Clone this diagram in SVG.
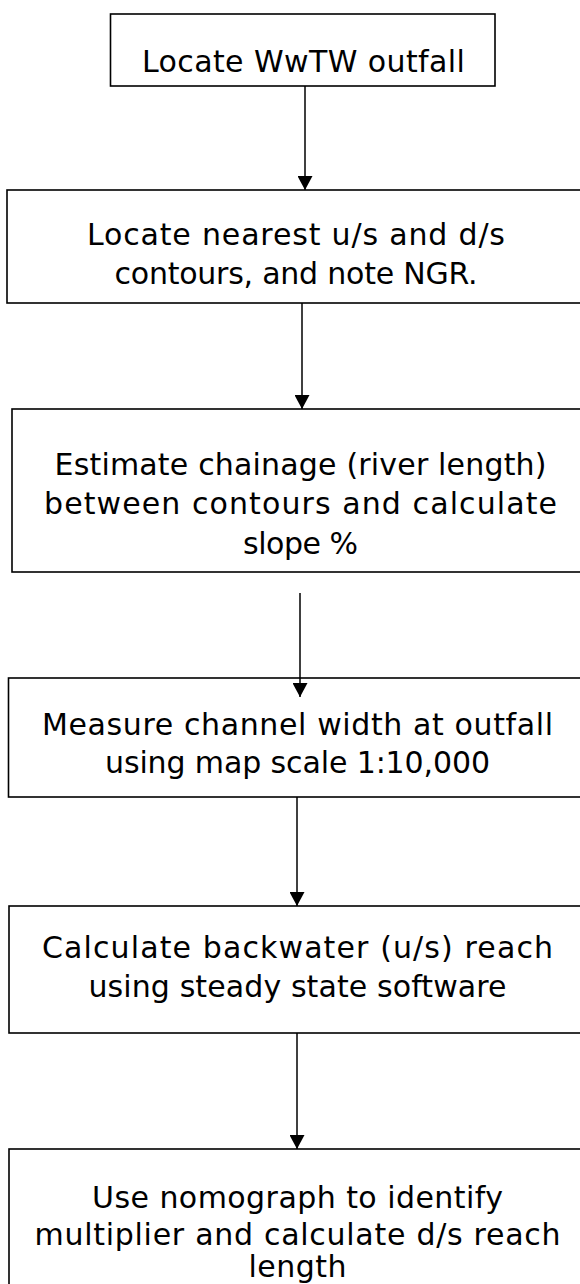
<svg xmlns="http://www.w3.org/2000/svg" width="580" height="1284" viewBox="0 0 580 1284">
<style>
  .box { fill: #ffffff; stroke: #000000; stroke-width: 1.6; }
  .lbl { font-family: "DejaVu Sans", "Liberation Sans", sans-serif; font-size: 30px; fill: #000000; text-anchor: middle; }
  .edge { stroke: #000000; stroke-width: 1.5; fill: none; marker-end: url(#arrow); }
</style>
<defs>
  <marker id="arrow" viewBox="0 0 14 15" refX="14" refY="7.5" markerWidth="14" markerHeight="15" markerUnits="userSpaceOnUse" orient="auto">
    <path d="M0,0 L14,7.5 L0,15 Z" fill="#000000"/>
  </marker>
</defs>
<rect width="580" height="1284" fill="#ffffff"/>

<g id="n1">
  <rect class="box" x="110.5" y="14" width="384.5" height="72"/>
  <text class="lbl" x="303.4" y="72" textLength="323">Locate WwTW outfall</text>
</g>

<g id="n2">
  <rect class="box" x="7" y="190" width="578" height="113"/>
  <text class="lbl" x="296" y="245" textLength="418">Locate nearest u/s and d/s</text>
  <text class="lbl" x="296" y="284" textLength="363">contours, and note NGR.</text>
</g>

<g id="n3">
  <rect class="box" x="12" y="409" width="577" height="163"/>
  <text class="lbl" x="300.5" y="475" textLength="492">Estimate chainage (river length)</text>
  <text class="lbl" x="300.5" y="514" textLength="513">between contours and calculate</text>
  <text class="lbl" x="300.5" y="554" textLength="115">slope %</text>
</g>

<g id="n4">
  <rect class="box" x="8.5" y="678" width="578" height="119"/>
  <text class="lbl" x="297.5" y="735" textLength="511">Measure channel width at outfall</text>
  <text class="lbl" x="297.5" y="773" textLength="385">using map scale 1:10,000</text>
</g>

<g id="n5">
  <rect class="box" x="9" y="906" width="577" height="127"/>
  <text class="lbl" x="297.5" y="958" textLength="511">Calculate backwater (u/s) reach</text>
  <text class="lbl" x="297.5" y="997" textLength="418">using steady state software</text>
</g>

<g id="n6">
  <rect class="box" x="9" y="1149" width="577" height="160"/>
  <text class="lbl" x="297.5" y="1208" textLength="411">Use nomograph to identify</text>
  <text class="lbl" x="297.5" y="1245" textLength="526">multiplier and calculate d/s reach</text>
  <text class="lbl" x="297.5" y="1277" textLength="98">length</text>
</g>

<g id="connectors">
  <line class="edge" x1="305" y1="86" x2="305" y2="190"/>
  <line class="edge" x1="302" y1="303" x2="302" y2="409"/>
  <line class="edge" x1="300" y1="593" x2="300" y2="697"/>
  <line class="edge" x1="297" y1="797" x2="297" y2="906"/>
  <line class="edge" x1="297" y1="1033" x2="297" y2="1149"/>
</g>
</svg>
